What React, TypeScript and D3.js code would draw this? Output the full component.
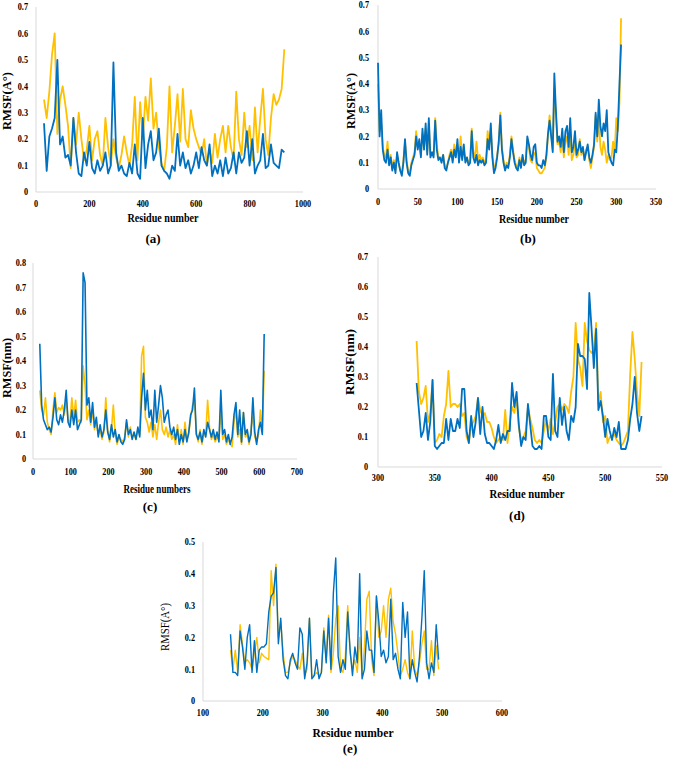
import React from "react";
import * as d3 from "d3";

// ---------- Panel (a) ----------
const aStart = 30;
const aStep = 10;
const aOrange = [
  0.35, 0.28, 0.38, 0.52, 0.6, 0.22, 0.35, 0.4, 0.33, 0.25,
  0.09, 0.28, 0.18, 0.3, 0.2, 0.12, 0.16, 0.25, 0.12, 0.2,
  0.23, 0.14, 0.1, 0.28, 0.17, 0.1, 0.2, 0.13, 0.09, 0.14,
  0.21, 0.15, 0.1, 0.18, 0.36, 0.12, 0.34, 0.2, 0.36, 0.27,
  0.43, 0.24, 0.3, 0.17, 0.11, 0.08, 0.17, 0.4, 0.15, 0.25,
  0.37, 0.19, 0.39, 0.2, 0.17, 0.31, 0.24, 0.2, 0.17, 0.14,
  0.2, 0.1, 0.16, 0.11, 0.22, 0.13, 0.2, 0.25, 0.15, 0.25,
  0.17, 0.12, 0.38, 0.2, 0.14, 0.3, 0.17, 0.25, 0.12, 0.32,
  0.15, 0.28, 0.39, 0.2, 0.14, 0.28, 0.37, 0.33, 0.35, 0.39,
  0.54,
];
const aBlue = [
  0.26, 0.08, 0.21, 0.24, 0.28, 0.5, 0.18, 0.21, 0.13, 0.14,
  0.1, 0.28, 0.15, 0.07, 0.06, 0.15, 0.1, 0.19, 0.09, 0.07,
  0.12, 0.08, 0.1, 0.15, 0.07, 0.1, 0.49, 0.15, 0.08, 0.1,
  0.07, 0.06, 0.11, 0.07, 0.18, 0.07, 0.05, 0.28, 0.09, 0.18,
  0.23, 0.12, 0.15, 0.24, 0.1, 0.08, 0.07, 0.05, 0.1, 0.08,
  0.22, 0.1, 0.15, 0.09, 0.12, 0.07, 0.1, 0.15, 0.09, 0.17,
  0.12, 0.1, 0.18, 0.06, 0.1, 0.07, 0.12, 0.06, 0.13, 0.07,
  0.09, 0.15, 0.07, 0.15, 0.11, 0.13, 0.23, 0.1, 0.2, 0.07,
  0.1, 0.12, 0.22, 0.09, 0.1, 0.18, 0.11, 0.1, 0.09, 0.16,
  0.15,
];
const aXTicks = [0, 200, 400, 600, 800, 1000];
const aYTicks = [0, 0.1, 0.2, 0.3, 0.4, 0.5, 0.6, 0.7];

// ---------- Panel (b) ----------
const bStart = 0;
const bStep = 2;
const bOrange = [
  0.4, 0.22, 0.25, 0.16, 0.13, 0.12, 0.18, 0.1, 0.13, 0.08,
  0.11, 0.07, 0.13, 0.1, 0.07, 0.06, 0.11, 0.18, 0.11, 0.07,
  0.06, 0.1, 0.12, 0.14, 0.22, 0.17, 0.16, 0.13, 0.21, 0.16,
  0.23, 0.14, 0.25, 0.13, 0.13, 0.13, 0.27, 0.17, 0.12, 0.12,
  0.11, 0.13, 0.09, 0.08, 0.1, 0.13, 0.15, 0.12, 0.17, 0.14,
  0.17, 0.12, 0.2, 0.12, 0.15, 0.11, 0.12, 0.1, 0.11, 0.23,
  0.14, 0.12, 0.18, 0.11, 0.13, 0.11, 0.12, 0.1, 0.11, 0.22,
  0.17, 0.23, 0.13, 0.08, 0.09, 0.13, 0.17, 0.29, 0.16, 0.11,
  0.08, 0.1, 0.09, 0.13, 0.2, 0.15, 0.11, 0.09, 0.08, 0.12,
  0.09, 0.12, 0.1, 0.11, 0.19, 0.16, 0.11, 0.1, 0.14, 0.13,
  0.08, 0.07, 0.06, 0.06, 0.07, 0.08, 0.12, 0.2, 0.28, 0.22,
  0.15, 0.38, 0.28, 0.17, 0.18, 0.14, 0.2, 0.12, 0.18, 0.2,
  0.13, 0.22, 0.11, 0.13, 0.18, 0.12, 0.13, 0.19, 0.13, 0.15,
  0.11, 0.15, 0.16, 0.11, 0.08, 0.12, 0.16, 0.28, 0.18, 0.27,
  0.16, 0.13, 0.18, 0.15, 0.1, 0.13, 0.11, 0.12, 0.18, 0.14,
  0.27, 0.22, 0.33, 0.65,
];
const bBlue = [
  0.48, 0.2, 0.3, 0.15, 0.11, 0.1, 0.15, 0.09, 0.12, 0.07,
  0.1, 0.06, 0.14, 0.1, 0.07, 0.05, 0.1, 0.19, 0.1, 0.06,
  0.05, 0.09, 0.11, 0.13, 0.2, 0.15, 0.19, 0.12, 0.23, 0.15,
  0.25, 0.13, 0.27, 0.12, 0.14, 0.12, 0.26, 0.15, 0.11, 0.12,
  0.1, 0.13, 0.08, 0.07, 0.1, 0.12, 0.14, 0.1, 0.15, 0.12,
  0.19, 0.1, 0.16, 0.11, 0.17, 0.1, 0.12, 0.09, 0.1, 0.22,
  0.12, 0.1, 0.13, 0.09, 0.11, 0.1, 0.11, 0.09, 0.1, 0.19,
  0.15, 0.25, 0.12, 0.06, 0.08, 0.12, 0.18, 0.28, 0.15, 0.1,
  0.07, 0.09, 0.08, 0.12, 0.19, 0.14, 0.1, 0.08, 0.07, 0.11,
  0.08, 0.13, 0.09, 0.1, 0.2, 0.17, 0.13, 0.11, 0.16, 0.17,
  0.1, 0.09, 0.09, 0.08, 0.11, 0.09, 0.13, 0.21, 0.26, 0.2,
  0.14, 0.44, 0.3, 0.18, 0.2, 0.16, 0.23, 0.14, 0.22, 0.24,
  0.16, 0.27, 0.14, 0.16, 0.22, 0.13, 0.15, 0.18, 0.14, 0.16,
  0.11, 0.14, 0.17, 0.12, 0.1, 0.13, 0.17, 0.29, 0.2, 0.34,
  0.24, 0.2, 0.25, 0.22, 0.3, 0.14, 0.12, 0.1, 0.09, 0.15,
  0.14, 0.24, 0.4, 0.55,
];
const bXTicks = [0, 50, 100, 150, 200, 250, 300, 350];
const bYTicks = [0, 0.1, 0.2, 0.3, 0.4, 0.5, 0.6, 0.7];

// ---------- Panel (c) ----------
const cStart = 18;
const cStep = 5;
const cOrange = [
  0.28, 0.2, 0.18, 0.25, 0.15, 0.12, 0.1, 0.2, 0.27, 0.19,
  0.21, 0.2, 0.22, 0.18, 0.24, 0.16, 0.15, 0.25, 0.17, 0.24,
  0.15, 0.16, 0.15, 0.38, 0.3, 0.16, 0.2, 0.14, 0.2, 0.12,
  0.15, 0.1, 0.12, 0.08, 0.11, 0.25, 0.12, 0.07, 0.12, 0.22,
  0.1, 0.06, 0.09, 0.08, 0.07, 0.09, 0.15, 0.09, 0.13, 0.09,
  0.1, 0.08, 0.12, 0.1, 0.42, 0.46, 0.17, 0.15, 0.11, 0.15,
  0.09, 0.14, 0.08, 0.15, 0.2, 0.12, 0.1, 0.13, 0.09, 0.12,
  0.08, 0.1, 0.06, 0.14, 0.07, 0.12, 0.06, 0.15, 0.08, 0.1,
  0.17, 0.22, 0.24, 0.11, 0.07, 0.12, 0.06, 0.1, 0.1, 0.24,
  0.13, 0.08, 0.1, 0.07, 0.09, 0.08, 0.2, 0.08, 0.1, 0.06,
  0.08, 0.06, 0.05, 0.15, 0.2, 0.09, 0.12, 0.06, 0.19, 0.09,
  0.1, 0.06, 0.12, 0.18, 0.09, 0.07, 0.1, 0.2, 0.11, 0.36,
];
const cBlue = [
  0.47, 0.22, 0.16, 0.14, 0.12, 0.13, 0.11, 0.17, 0.25, 0.16,
  0.14, 0.18, 0.15, 0.2, 0.28, 0.15, 0.13, 0.2, 0.14, 0.2,
  0.12, 0.14, 0.16, 0.76, 0.72, 0.22, 0.25, 0.15, 0.23, 0.13,
  0.17, 0.09, 0.14, 0.09, 0.12, 0.2, 0.11, 0.08, 0.14, 0.09,
  0.12, 0.07, 0.1, 0.07, 0.06, 0.08, 0.16, 0.1, 0.12, 0.08,
  0.11, 0.08, 0.13, 0.09, 0.25, 0.35, 0.2, 0.28, 0.17, 0.2,
  0.12, 0.28, 0.15, 0.22, 0.3, 0.25, 0.15, 0.18, 0.2, 0.13,
  0.1, 0.13, 0.08, 0.12, 0.06, 0.1, 0.07, 0.12, 0.07, 0.11,
  0.18, 0.2, 0.29, 0.1, 0.08, 0.11, 0.07, 0.12, 0.09, 0.15,
  0.12, 0.09, 0.12, 0.08, 0.11, 0.07, 0.28, 0.1, 0.12, 0.07,
  0.1, 0.06, 0.09, 0.18, 0.23, 0.1, 0.2, 0.07, 0.19, 0.1,
  0.12, 0.07, 0.1, 0.25, 0.11, 0.06, 0.12, 0.15, 0.1, 0.51,
];
const cXTicks = [0, 100, 200, 300, 400, 500, 600, 700];
const cYTicks = [0, 0.1, 0.2, 0.3, 0.4, 0.5, 0.6, 0.7, 0.8];

// ---------- Panel (d) ----------
const dStart = 334;
const dStep = 2;
const dOrange = [
  0.42, 0.25, 0.21, 0.23, 0.27, 0.15, 0.18, 0.29, 0.08, 0.09,
  0.11, 0.1, 0.17, 0.21, 0.32, 0.2, 0.21, 0.21, 0.2, 0.21,
  0.17, 0.18, 0.1, 0.08, 0.14, 0.15, 0.17, 0.23, 0.19, 0.17,
  0.18, 0.15, 0.15, 0.13, 0.1, 0.08, 0.09, 0.1, 0.09, 0.19,
  0.08, 0.15, 0.2, 0.18, 0.23, 0.13, 0.09, 0.1, 0.12, 0.2,
  0.16, 0.13, 0.09, 0.08, 0.09, 0.08, 0.12, 0.16, 0.12, 0.16,
  0.11, 0.15, 0.2, 0.21, 0.19, 0.21, 0.2, 0.18, 0.25, 0.3,
  0.48, 0.36, 0.33, 0.27, 0.48, 0.42, 0.39, 0.38, 0.39, 0.48,
  0.21, 0.25, 0.15, 0.17, 0.08, 0.1, 0.1, 0.11, 0.09, 0.08,
  0.07, 0.08, 0.1, 0.12, 0.31, 0.45, 0.36, 0.25, 0.17, 0.35,
];
const dBlue = [
  0.28, 0.19, 0.1, 0.12, 0.18, 0.09, 0.15, 0.29, 0.07, 0.06,
  0.07, 0.08, 0.08, 0.16, 0.09, 0.16, 0.12, 0.12, 0.16, 0.13,
  0.26, 0.26, 0.12, 0.08, 0.17, 0.1, 0.15, 0.23, 0.11, 0.2,
  0.11, 0.08, 0.08, 0.07, 0.06, 0.09, 0.14, 0.08, 0.11, 0.09,
  0.12, 0.12, 0.28, 0.2, 0.25, 0.14, 0.07, 0.1, 0.09, 0.21,
  0.14, 0.07, 0.06, 0.06, 0.07, 0.06, 0.17, 0.17, 0.1, 0.09,
  0.31, 0.12, 0.1, 0.23, 0.14, 0.2, 0.12, 0.09, 0.17, 0.15,
  0.2, 0.41, 0.37, 0.37, 0.36, 0.26, 0.58, 0.46, 0.33, 0.46,
  0.19, 0.22, 0.17, 0.1, 0.16, 0.12, 0.09, 0.13, 0.1, 0.15,
  0.06, 0.06, 0.06, 0.09, 0.16, 0.21, 0.3, 0.18, 0.12, 0.17,
];
const dXTicks = [300, 350, 400, 450, 500, 550];
const dYTicks = [0, 0.1, 0.2, 0.3, 0.4, 0.5, 0.6, 0.7];

// ---------- Panel (e) ----------
const eStart = 146;
const eStep = 4;
const eOrange = [
  0.16, 0.1, 0.16, 0.09, 0.24, 0.18, 0.12, 0.13, 0.12, 0.1,
  0.15, 0.2, 0.12, 0.15, 0.14, 0.135, 0.13, 0.41, 0.3, 0.43,
  0.2, 0.25, 0.15, 0.09, 0.09, 0.12, 0.14, 0.13, 0.11, 0.1,
  0.15, 0.08, 0.1, 0.26, 0.08, 0.08, 0.09, 0.08, 0.09, 0.23,
  0.13, 0.27, 0.09, 0.15, 0.26, 0.3, 0.1, 0.09, 0.14, 0.3,
  0.15, 0.1, 0.13, 0.09, 0.2, 0.08, 0.17, 0.32, 0.345, 0.13,
  0.08, 0.33, 0.2, 0.22, 0.3, 0.2, 0.32, 0.355, 0.25, 0.21,
  0.15, 0.08, 0.1, 0.13, 0.09, 0.07, 0.22, 0.1, 0.08, 0.12,
  0.18, 0.22, 0.1, 0.1, 0.19, 0.08, 0.175, 0.1,
];
const eBlue = [
  0.21, 0.09, 0.09, 0.08, 0.22, 0.17, 0.1, 0.2, 0.24, 0.09,
  0.19, 0.09, 0.16, 0.17, 0.17, 0.18, 0.28, 0.33, 0.34, 0.42,
  0.18, 0.26, 0.13, 0.08, 0.07, 0.13, 0.15, 0.12, 0.1, 0.23,
  0.21, 0.07, 0.12, 0.26, 0.07, 0.08, 0.13, 0.07, 0.09, 0.22,
  0.12, 0.26, 0.1, 0.34, 0.45, 0.14, 0.09, 0.13, 0.1, 0.28,
  0.16, 0.08, 0.17, 0.12, 0.4, 0.07, 0.1, 0.22, 0.16, 0.16,
  0.09, 0.33, 0.25, 0.14, 0.16, 0.12, 0.14, 0.32, 0.13, 0.15,
  0.1, 0.07, 0.31, 0.2, 0.28, 0.07, 0.13, 0.09, 0.06, 0.14,
  0.26, 0.41, 0.12, 0.07, 0.12, 0.09, 0.24, 0.13,
];
const eXTicks = [100, 200, 300, 400, 500, 600];
const eYTicks = [0, 0.1, 0.2, 0.3, 0.4, 0.5];

const ORANGE = "#FFC000";
const BLUE = "#0070C0";
const AXIS = "#D9D9D9";
const FONT = "'Liberation Serif', 'Times New Roman', serif";

type PanelCfg = {
  start: number;
  step: number;
  orange: number[];
  blue: number[];
  xTicks: number[];
  yTicks: number[];
  left: number;
  right: number;
  top: number;
  bottom: number;
  lw: number;
  yLabelGap: number;
  xLabelGap: number;
  yTitle: string;
  yTitleX: number;
  yTitleY: number;
  yTitleLen: number;
  yTitleBold: boolean;
  yTitleSize: number;
  xTitle: string;
  xTitleX: number;
  xTitleY: number;
  xTitleLen: number;
  tag: string;
  tagX: number;
  tagY: number;
};

const panels: PanelCfg[] = [
  {
    start: aStart, step: aStep, orange: aOrange, blue: aBlue, xTicks: aXTicks, yTicks: aYTicks,
    left: 36, right: 303, top: 7, bottom: 192, lw: 1.8, yLabelGap: 8, xLabelGap: 15,
    yTitle: "RMSF(A°)", yTitleX: 11, yTitleY: 101, yTitleLen: 58, yTitleBold: true, yTitleSize: 12.5,
    xTitle: "Residue number", xTitleX: 163, xTitleY: 222, xTitleLen: 71,
    tag: "(a)", tagX: 153, tagY: 243,
  },
  {
    start: bStart, step: bStep, orange: bOrange, blue: bBlue, xTicks: bXTicks, yTicks: bYTicks,
    left: 378, right: 656, top: 5, bottom: 189, lw: 1.8, yLabelGap: 9, xLabelGap: 16,
    yTitle: "RMSF(A°)", yTitleX: 355, yTitleY: 101, yTitleLen: 56, yTitleBold: true, yTitleSize: 12.5,
    xTitle: "Residue number", xTitleX: 534, xTitleY: 223, xTitleLen: 70,
    tag: "(b)", tagX: 528, tagY: 243,
  },
  {
    start: cStart, step: cStep, orange: cOrange, blue: cBlue, xTicks: cXTicks, yTicks: cYTicks,
    left: 33, right: 297, top: 263, bottom: 459, lw: 1.6, yLabelGap: 7, xLabelGap: 16,
    yTitle: "RMSF(nm)", yTitleX: 11, yTitleY: 368, yTitleLen: 60, yTitleBold: true, yTitleSize: 12.5,
    xTitle: "Residue numbers", xTitleX: 157, xTitleY: 493, xTitleLen: 67,
    tag: "(c)", tagX: 150, tagY: 511,
  },
  {
    start: dStart, step: dStep, orange: dOrange, blue: dBlue, xTicks: dXTicks, yTicks: dYTicks,
    left: 378, right: 662, top: 257, bottom: 467, lw: 1.8, yLabelGap: 10, xLabelGap: 14,
    yTitle: "RMSF(nm)", yTitleX: 354, yTitleY: 362, yTitleLen: 66, yTitleBold: true, yTitleSize: 12.5,
    xTitle: "Residue number", xTitleX: 527, xTitleY: 498, xTitleLen: 75,
    tag: "(d)", tagX: 517, tagY: 520,
  },
  {
    start: eStart, step: eStep, orange: eOrange, blue: eBlue, xTicks: eXTicks, yTicks: eYTicks,
    left: 203, right: 502, top: 542, bottom: 701, lw: 1.4, yLabelGap: 8, xLabelGap: 15,
    yTitle: "RMSF(A°)", yTitleX: 169, yTitleY: 627, yTitleLen: 48, yTitleBold: false, yTitleSize: 11.5,
    xTitle: "Residue number", xTitleX: 353, xTitleY: 737, xTitleLen: 81,
    tag: "(e)", tagX: 350, tagY: 753,
  },
];

const TICK_FS = 9.5;
const SQUEEZE = 0.86;

function tickWidth(s: string) {
  let w = 0;
  for (const ch of s) w += ch === "." ? 0.25 : 0.5;
  return w * TICK_FS * SQUEEZE;
}

function fmtY(v: number) {
  return v === 0 ? "0" : v.toFixed(1);
}

function Panel({ p }: { p: PanelCfg }) {
  const xs = d3
    .scaleLinear()
    .domain([p.xTicks[0], p.xTicks[p.xTicks.length - 1]])
    .range([p.left, p.right]);
  const ys = d3
    .scaleLinear()
    .domain([0, p.yTicks[p.yTicks.length - 1]])
    .range([p.bottom, p.top]);
  const gen = d3
    .line<number>()
    .x((_, i) => xs(p.start + i * p.step))
    .y((d) => ys(d));
  return (
    <g>
      <line x1={p.left} x2={p.left} y1={p.top} y2={p.bottom} stroke={AXIS} strokeWidth={1} />
      <line x1={p.left} x2={p.right} y1={p.bottom} y2={p.bottom} stroke={AXIS} strokeWidth={1.2} />
      {p.yTicks.map((t) => {
        const s = fmtY(t);
        return (
          <text
            key={"y" + t}
            x={p.left - p.yLabelGap}
            y={ys(t)}
            dy="0.35em"
            textAnchor="end"
            fontFamily={FONT}
            fontWeight="bold"
            fontSize={TICK_FS}
            textLength={tickWidth(s)}
            lengthAdjust="spacingAndGlyphs"
            fill="#000"
          >
            {s}
          </text>
        );
      })}
      {p.xTicks.map((t) => {
        const s = String(t);
        return (
          <text
            key={"x" + t}
            x={xs(t)}
            y={p.bottom + p.xLabelGap}
            textAnchor="middle"
            fontFamily={FONT}
            fontWeight="bold"
            fontSize={TICK_FS}
            textLength={tickWidth(s)}
            lengthAdjust="spacingAndGlyphs"
            fill="#000"
          >
            {s}
          </text>
        );
      })}
      <path
        d={gen(p.orange) || ""}
        fill="none"
        stroke={ORANGE}
        strokeWidth={p.lw}
        strokeLinejoin="round"
      />
      <path
        d={gen(p.blue) || ""}
        fill="none"
        stroke={BLUE}
        strokeWidth={p.lw}
        strokeLinejoin="round"
      />
      <text
        transform={`translate(${p.yTitleX},${p.yTitleY}) rotate(-90)`}
        textAnchor="middle"
        fontFamily={FONT}
        fontWeight={p.yTitleBold ? "bold" : "normal"}
        fontSize={p.yTitleSize}
        textLength={p.yTitleLen}
        lengthAdjust="spacingAndGlyphs"
        fill="#000"
      >
        {p.yTitle}
      </text>
      <text
        x={p.xTitleX}
        y={p.xTitleY}
        textAnchor="middle"
        fontFamily={FONT}
        fontWeight="bold"
        fontSize={12.5}
        textLength={p.xTitleLen}
        lengthAdjust="spacingAndGlyphs"
        fill="#000"
      >
        {p.xTitle}
      </text>
      <text
        x={p.tagX}
        y={p.tagY}
        textAnchor="middle"
        fontFamily={FONT}
        fontWeight="bold"
        fontSize={13}
        fill="#000"
      >
        {p.tag}
      </text>
    </g>
  );
}

export default function App() {
  return (
    <svg
      width={676}
      height={757}
      viewBox="0 0 676 757"
      style={{ position: "absolute", left: 0, top: 0, background: "#fff" }}
    >
      <rect x={0} y={0} width={676} height={757} fill="#fff" />
      {panels.map((p, i) => (
        <Panel key={i} p={p} />
      ))}
    </svg>
  );
}
